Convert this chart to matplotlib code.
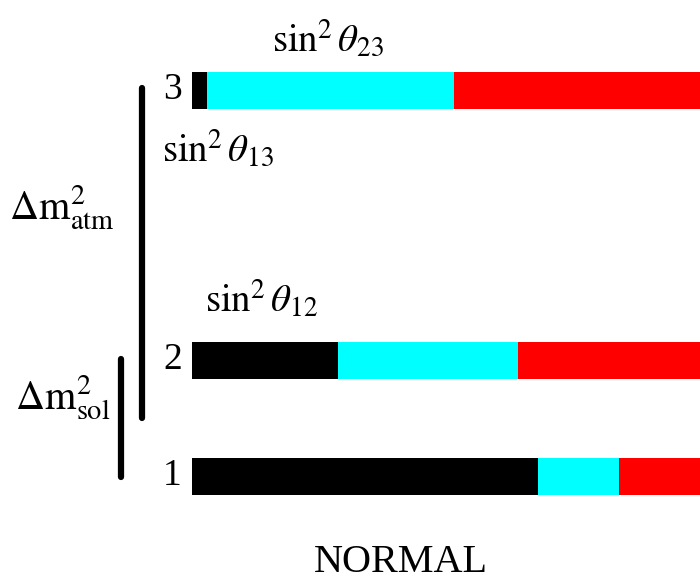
import matplotlib
matplotlib.use("Agg")
import matplotlib.pyplot as plt

# flavour content of each mass eigenstate (nu_e, nu_mu, nu_tau)
states = ["1", "2", "3"]
frac_e = [0.681, 0.287, 0.030]
frac_mu = [0.159, 0.354, 0.486]
frac_tau = [0.160, 0.359, 0.484]
colors = ["black", "#00ffff", "red"]

# vertical placement of the levels (pixel-like units, top = 0)
LEVEL_Y = [476, 360, 90]
BAR_H = 37

plt.rcParams["font.family"] = ["Liberation Serif", "DejaVu Serif"]
plt.rcParams["mathtext.fontset"] = "stix"

fig = plt.figure(figsize=(7.0, 5.81), dpi=100)
ax = fig.add_axes([0, 0, 1, 1])
# 508 px per unit of flavour fraction, bars start at x = 0
ax.set_xlim(-192 / 508, 1.0)
ax.set_ylim(581, 0)
ax.axis("off")

left = [0.0, 0.0, 0.0]
for frac, c in zip([frac_e, frac_mu, frac_tau], colors):
    ax.barh(LEVEL_Y, frac, height=BAR_H, left=left, color=c, edgecolor="none")
    left = [l + f for l, f in zip(left, frac)]

def px(x):
    return (x - 192) / 508

for s, y in zip(states, LEVEL_Y):
    ax.text(px(182), y, s, ha="right", va="center", fontsize=27)

# mass splitting bars
ax.plot([px(141.5), px(141.5)], [88, 418], color="black", lw=4.5,
        solid_capstyle="round")
ax.plot([px(121), px(121)], [359, 477], color="black", lw=4.5,
        solid_capstyle="round")

ax.text(px(62), 208, r"$\Delta\mathrm{m}^2_{\mathrm{atm}}$", ha="center",
        va="center", fontsize=29)
ax.text(px(63), 398, r"$\Delta\mathrm{m}^2_{\mathrm{sol}}$", ha="center",
        va="center", fontsize=29)

ax.text(px(328), 40, r"$\sin^2\theta_{23}$", ha="center", va="center",
        fontsize=28)
ax.text(px(218), 150, r"$\sin^2\theta_{13}$", ha="center", va="center",
        fontsize=28)
ax.text(px(262), 300, r"$\sin^2\theta_{12}$", ha="center", va="center",
        fontsize=28)

ax.text(px(401), 562, "NORMAL", ha="center", va="center", fontsize=29)

fig.savefig("out.png", dpi=100)
